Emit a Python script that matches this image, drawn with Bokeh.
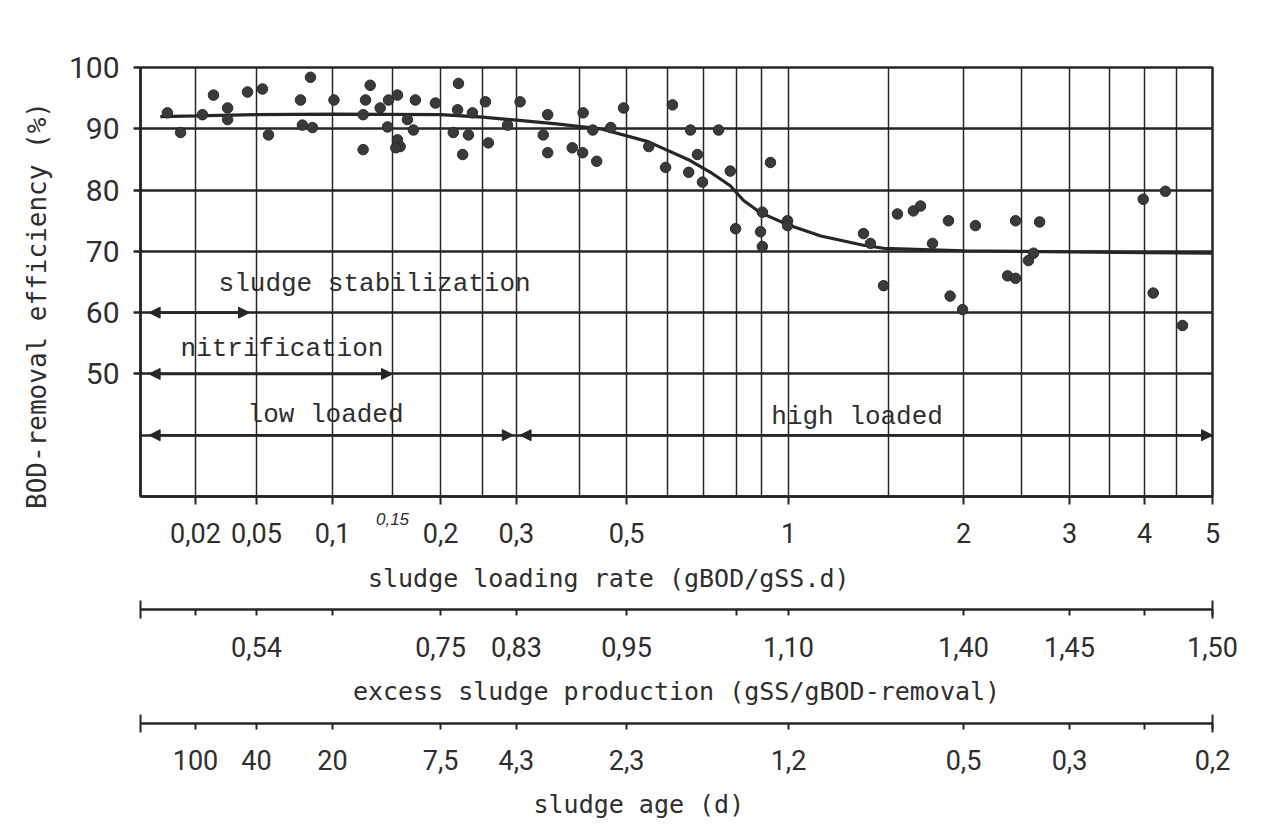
import numpy as np
from bokeh.plotting import figure
from bokeh.models import (LinearAxis, FixedTicker, CustomJSTickFormatter, Arrow,
                          NormalHead, Label, Range1d, ColumnDataSource)
from bokeh.core.properties import value
from bokeh.embed import file_html
from bokeh.resources import INLINE

# ---- graduation of the (non-uniform) loading-rate scale of the original chart
SCALE_RATE = [0.009, 0.02, 0.05, 0.1, 0.15, 0.2, 0.25, 0.3, 0.4, 0.5, 0.6, 0.7, 0.8,
              0.9, 1, 1.5, 2, 2.5, 3, 3.5, 4, 4.5, 5]
SCALE_U = [0, 5.13, 10.82, 17.91, 23.51, 27.99, 31.90, 35.07, 40.95, 45.34, 49.16,
           52.52, 55.60, 57.93, 60.45, 69.78, 76.77, 82.18, 86.66, 90.39, 93.66, 96.64, 100]

GRID_RATES = [0.02, 0.05, 0.1, 0.15, 0.2, 0.25, 0.3, 0.4, 0.5, 0.6, 0.7, 0.8, 0.9, 1,
              1.5, 2, 2.5, 3, 3.5, 4, 4.5, 5]
GRID_EFF = [40, 50, 60, 70, 80, 90, 100]
Y_TICKS = [50, 60, 70, 80, 90, 100]

LOAD_TICKS = [0.02, 0.05, 0.1, 0.2, 0.3, 0.5, 1, 2, 3, 4, 5]
LOAD_LABELS = ["0,02", "0,05", "0,1", "0,2", "0,3", "0,5", "1", "2", "3", "4", "5"]

EXCESS_TICKS = [0.02, 0.05, 0.1, 0.2, 0.3, 0.5, 0.8, 1, 2, 3, 4, 5]
EXCESS_LABELS = ["", "0,54", "", "0,75", "0,83", "0,95", "", "1,10", "1,40", "1,45", "", "1,50"]

AGE_TICKS = [0.02, 0.05, 0.1, 0.2, 0.3, 0.5, 1, 2, 3, 4, 5]
AGE_LABELS = ["100", "40", "20", "7,5", "4,3", "2,3", "1,2", "0,5", "0,3", "", "0,2"]

# ---- measurements: sludge loading rate (gBOD/gSS.d) vs BOD removal efficiency (%)
LOADING = [0.0133, 0.0161, 0.0222, 0.0262, 0.0324, 0.0324, 0.0437, 0.0528, 0.0558, 0.0747,
           0.0818, 0.076, 0.0833, 0.101, 0.123, 0.125, 0.129, 0.123, 0.138, 0.146,
           0.1545, 0.145, 0.1545, 0.157, 0.153, 0.164, 0.172, 0.194, 0.170, 0.22,
           0.219, 0.214, 0.232, 0.237, 0.225, 0.254, 0.258, 0.286, 0.305, 0.346,
           0.339, 0.346, 0.387, 0.406, 0.407, 0.426, 0.434, 0.464, 0.493, 0.552,
           0.613, 0.595, 0.662, 0.682, 0.657, 0.697, 0.744, 0.780, 0.797, 0.896,
           0.903, 0.903, 0.932, 0.996, 0.996, 1.355, 1.394, 1.47, 1.552, 1.65,
           1.696, 1.776, 1.888, 1.90, 1.993, 2.094, 2.444, 2.37, 2.444, 2.567,
           2.617, 2.678, 3.98, 4.32, 4.13, 4.58]
EFFICIENCY = [92.6, 89.4, 92.3, 95.5, 93.4, 91.5, 96.0, 96.5, 89.0, 94.7,
              98.4, 90.6, 90.2, 94.7, 86.6, 94.7, 97.1, 92.3, 93.4, 94.7,
              95.5, 90.3, 88.2, 87.1, 86.9, 91.5, 94.7, 94.2, 89.8, 97.4,
              93.1, 89.4, 89.0, 92.6, 85.8, 94.4, 87.7, 90.6, 94.4, 92.3,
              89.0, 86.1, 86.9, 86.1, 92.6, 89.8, 84.7, 90.2, 93.4, 87.1,
              93.9, 83.7, 89.8, 85.8, 82.9, 81.3, 89.8, 83.1, 73.7, 73.2,
              70.8, 76.4, 84.5, 75.0, 74.2, 72.9, 71.3, 64.4, 76.1, 76.6,
              77.4, 71.3, 75.0, 62.7, 60.5, 74.2, 75.0, 66.0, 65.6, 68.5,
              69.7, 74.8, 78.5, 79.8, 63.2, 57.9]

# ---- fitted curve
CURVE_RATE = [0.012, 0.02, 0.05, 0.1, 0.2, 0.25, 0.3, 0.36, 0.442, 0.55, 0.655, 0.72, 0.78,
              0.827, 0.896, 1.0, 1.14, 1.355, 1.47, 2, 3, 4, 5]
CURVE_EFF = [92.0, 92.1, 92.3, 92.4, 92.3, 91.9, 91.4, 90.8, 90.0, 87.9, 85.0, 82.9, 80.7,
             78.3, 76.3, 74.3, 72.5, 71.0, 70.5, 70.1, 69.9, 69.8, 69.7]

# ---- operating zones
ZONE_TEXT = ["sludge stabilization", "nitrification", "low loaded", "high loaded"]
ZONE_START = [0.0102, 0.0102, 0.0102, 0.305]
ZONE_END = [0.045, 0.15, 0.295, 5.0]
ZONE_LEVEL = [60, 50, 40, 40]
ZONE_TEXT_RATE = [0.0283, 0.0161, 0.0437, 0.935]
ZONE_TEXT_EFF = [64.6, 54.1, 43.3, 42.9]

INK = "#262626"
TEXT = "#2e2e2e"


def to_u(rate):
    return np.interp(np.log(np.asarray(rate, dtype=float)), np.log(SCALE_RATE), SCALE_U)


def fmt(ticks, labels):
    return CustomJSTickFormatter(args=dict(t=[float(v) for v in to_u(ticks)], l=labels), code="""
        let best = -1, bd = 1e9;
        for (let i = 0; i < t.length; i++) {
            const d = Math.abs(t[i] - tick);
            if (d < bd) { bd = d; best = i; }
        }
        return bd < 1e-6 ? l[best] : "";
    """)


p = figure(width=1280, height=821, x_range=Range1d(0, 100), y_range=Range1d(30, 100),
           output_backend="svg", toolbar_location=None,
           min_border_left=140, min_border_right=68, min_border_top=67,
           min_border_bottom=321)
p.background_fill_color = "white"
p.border_fill_color = "white"
p.outline_line_color = INK
p.outline_line_width = 2.5

# grid
p.xgrid.ticker = FixedTicker(ticks=[float(v) for v in to_u(GRID_RATES)])
p.xgrid.grid_line_color = INK
p.xgrid.grid_line_width = 1.5
p.ygrid.ticker = FixedTicker(ticks=GRID_EFF)
p.ygrid.grid_line_color = INK
p.ygrid.grid_line_width = 2.4

NB = "\u00a0"

# y axis
ya = p.yaxis[0]
ya.ticker = FixedTicker(ticks=Y_TICKS)
ya.axis_label = "BOD-removal efficiency (%)" + NB * 3
ya.axis_label_text_font = "DejaVu Sans Mono"
ya.axis_label_text_font_size = "26px"
ya.axis_label_text_font_style = "normal"
ya.axis_label_text_color = TEXT
ya.axis_label_standoff = 14
ya.major_label_text_font = "Roboto"
ya.major_label_text_font_size = "30px"
ya.major_label_text_color = TEXT
ya.major_label_standoff = 14
ya.major_tick_out = 7
ya.major_tick_in = 0
ya.major_tick_line_width = 2.4
ya.major_tick_line_color = INK
ya.minor_tick_line_color = None
ya.axis_line_color = INK
ya.axis_line_width = 2.5


def style_x(ax, ticks, labels, title, tick_out, label_standoff, title_standoff):
    ax.ticker = FixedTicker(ticks=[float(v) for v in to_u(ticks)], minor_ticks=[0.0, 100.0])
    ax.formatter = fmt(ticks, labels)
    ax.axis_label = title
    ax.axis_label_text_font = "DejaVu Sans Mono"
    ax.axis_label_text_font_size = "25px"
    ax.axis_label_text_font_style = "normal"
    ax.axis_label_text_color = TEXT
    ax.axis_label_standoff = title_standoff
    ax.major_label_text_font = "Roboto"
    ax.major_label_text_font_size = "27px"
    ax.major_label_text_color = TEXT
    ax.major_label_standoff = label_standoff
    ax.major_tick_out = tick_out
    ax.major_tick_in = 0
    ax.major_tick_line_width = 2
    ax.major_tick_line_color = INK
    ax.axis_line_color = INK
    ax.axis_line_width = 2.5


xa = p.xaxis[0]
style_x(xa, LOAD_TICKS, LOAD_LABELS, "sludge loading rate (gBOD/gSS.d)" + NB * 9, 8, 18, 18)
xa.minor_tick_line_color = None


def spacer(h):
    s = LinearAxis(ticker=FixedTicker(ticks=[]), axis_line_color=None,
                   major_tick_line_color=None, minor_tick_line_color=None,
                   major_label_text_font_size="0px", axis_label=NB,
                   axis_label_text_font_size=f"{h}px", axis_label_standoff=0)
    return s


p.add_layout(spacer(10), "below")

ea = LinearAxis()
style_x(ea, EXCESS_TICKS, EXCESS_LABELS, "excess sludge production (gSS/gBOD-removal)", 6, 18, 17)
ea.minor_tick_in = 9
ea.minor_tick_out = 9
ea.minor_tick_line_width = 2
ea.minor_tick_line_color = INK
p.add_layout(ea, "below")

p.add_layout(spacer(11), "below")

aa = LinearAxis()
style_x(aa, AGE_TICKS, AGE_LABELS, "sludge age (d)" + NB * 5, 6, 17, 17)
aa.minor_tick_in = 9
aa.minor_tick_out = 9
aa.minor_tick_line_width = 2
aa.minor_tick_line_color = INK
p.add_layout(aa, "below")

# curve and data
p.line(to_u(CURVE_RATE), CURVE_EFF, line_color=INK, line_width=3.2)
p.scatter(to_u(LOADING), EFFICIENCY, size=10.5, fill_color="#3a3a3a", line_color="#2a2a2a",
          line_width=1)

# zones
zsrc = ColumnDataSource(dict(x0=to_u(ZONE_START), x1=to_u(ZONE_END), y=ZONE_LEVEL))
p.add_layout(Arrow(source=zsrc, x_start="x0", y_start="y", x_end="x1", y_end="y",
                   start=NormalHead(size=11, fill_color=INK, line_color=INK),
                   end=NormalHead(size=11, fill_color=INK, line_color=INK),
                   line_color=INK, line_width=2.6))
tsrc = ColumnDataSource(dict(x=to_u(ZONE_TEXT_RATE), y=ZONE_TEXT_EFF, t=ZONE_TEXT))
p.text(x="x", y="y", text="t", source=tsrc, text_font=value("Liberation Mono"),
       text_font_size="26px", text_color=TEXT, text_align="left", text_baseline="middle")

# hand-written tick note below the frame (kept in the roomy right panel so it is not clipped)
p.add_layout(Label(x=float(to_u(0.15)), y=26.3, x_units="data", y_units="data",
                   text="0,15", text_font="Liberation Sans",
                   text_font_style="italic", text_font_size="17px", text_color=TEXT,
                   text_align="center", text_baseline="middle"), "right")

open("out.html", "w").write(file_html(p, INLINE))
